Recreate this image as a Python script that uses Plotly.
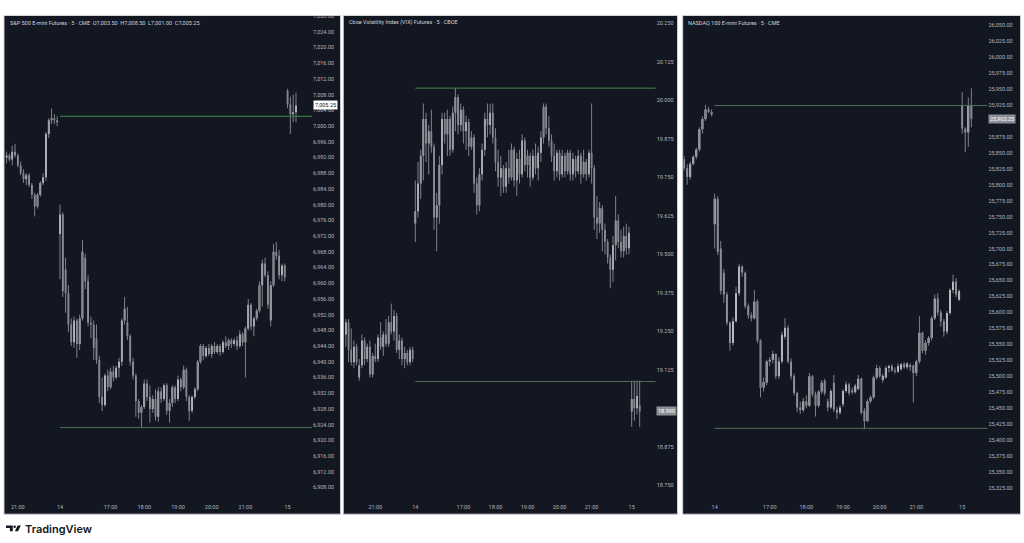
import plotly.graph_objects as go

W, H = 1024, 543
BG = "#131722"
UP = "#ffffff"
DOWN = "#a6a9b1"
WICK = "#7e818b"
TXT = "#b2b5be"
FONT = "Roboto"

# ---------------- ES1! 5m: tail of the 13th, the 14th, first bars of the 15th ----------------
es_open = [6992.0, 6992.5, 6991.5, 6993.5, 6992.5, 6990.0, 6988.0, 6986.5, 6987.5, 6985.0,
           6982.5, 6979.5, 6982.5, 6985.5, 6987.0, 6998.0, 7001.5, 7002.0, 7001.5,
           6972.5, 6977.5, 6963.5, 6957.5, 6949.5, 6945.0, 6950.5, 6944.5, 6951.0, 6966.5,
           6960.5, 6950.0, 6949.5, 6946.0, 6940.5, 6931.0, 6929.0, 6936.5, 6933.5, 6937.5,
           6936.0, 6938.5, 6940.0, 6950.5, 6950.0, 6946.5, 6940.0, 6936.5, 6930.0, 6927.0,
           6928.5, 6934.5, 6931.0, 6928.0, 6930.5, 6926.0, 6932.5, 6930.5, 6934.0, 6927.5,
           6929.5, 6933.5, 6930.5, 6935.5, 6933.5, 6938.0, 6931.0, 6927.5, 6931.0, 6933.0,
           6940.0, 6944.0, 6941.5, 6943.5, 6942.0, 6944.0, 6942.5, 6944.0, 6942.5, 6945.0,
           6944.0, 6945.5, 6944.5, 6945.5, 6944.0, 6947.0, 6945.0, 6948.5, 6954.5, 6949.0,
           6951.0, 6953.0, 6959.5, 6965.0, 6962.0, 6950.5, 6959.5, 6968.0, 6967.0, 6962.0,
           6964.5,
           7009.0, 7005.5, 7003.0, 7003.5]
es_high = [6993.5, 6993.0, 6995.0, 6995.5, 6993.0, 6991.0, 6989.0, 6988.0, 6988.0, 6985.5,
           6983.0, 6983.0, 6986.0, 6988.0, 6998.5, 7002.0, 7004.5, 7003.0, 7002.5,
           6980.0, 6978.0, 6966.5, 6959.5, 6951.0, 6951.5, 6951.0, 6952.0, 6971.0, 6967.5,
           6962.0, 6951.5, 6950.5, 6949.5, 6941.5, 6936.0, 6937.0, 6938.0, 6938.5, 6939.0,
           6939.0, 6941.0, 6951.0, 6956.5, 6954.0, 6947.0, 6941.0, 6937.0, 6930.5, 6929.0,
           6935.5, 6935.5, 6934.0, 6931.5, 6933.0, 6933.5, 6933.5, 6934.5, 6934.5, 6930.5,
           6934.0, 6934.0, 6936.5, 6936.0, 6939.0, 6938.5, 6931.5, 6931.5, 6933.5, 6940.5,
           6944.5, 6944.5, 6944.0, 6944.5, 6944.5, 6945.0, 6944.5, 6944.5, 6945.5, 6946.5,
           6946.0, 6946.0, 6946.0, 6946.5, 6948.0, 6947.5, 6949.0, 6956.0, 6955.0, 6951.5,
           6953.5, 6960.5, 6966.0, 6966.5, 6963.0, 6960.5, 6970.0, 6970.5, 6968.5, 6965.0,
           6965.0,
           7009.5, 7007.5, 7008.0, 7008.5]
es_low = [6990.5, 6991.0, 6990.0, 6992.0, 6989.5, 6987.5, 6985.5, 6985.0, 6984.5, 6981.5,
          6977.0, 6979.0, 6982.0, 6985.0, 6986.0, 6997.0, 7000.5, 7000.5, 7000.0,
          6961.0, 6956.5, 6952.5, 6947.5, 6944.0, 6943.5, 6941.0, 6943.0, 6950.5, 6958.5,
          6949.0, 6946.0, 6940.5, 6939.5, 6929.5, 6927.5, 6928.5, 6932.5, 6933.0, 6935.0,
          6935.5, 6936.0, 6939.0, 6949.5, 6945.5, 6939.0, 6935.5, 6926.0, 6925.5, 6923.25,
          6928.0, 6930.0, 6924.5, 6927.0, 6925.0, 6924.75, 6929.5, 6930.0, 6926.5, 6924.5,
          6928.5, 6929.5, 6930.0, 6932.5, 6933.0, 6930.0, 6925.0, 6927.0, 6930.5, 6932.5,
          6939.5, 6940.5, 6941.0, 6941.5, 6941.0, 6942.0, 6942.0, 6941.5, 6942.0, 6943.5,
          6943.0, 6943.5, 6944.0, 6943.0, 6943.5, 6944.0, 6936.0, 6948.0, 6948.0, 6946.5,
          6950.5, 6952.5, 6954.0, 6961.5, 6953.5, 6949.0, 6959.0, 6966.0, 6961.0, 6960.5,
          6960.5,
          7004.5, 6998.0, 7001.0, 7001.0]
es_close = [6992.5, 6991.5, 6993.5, 6992.5, 6990.0, 6988.0, 6986.5, 6987.5, 6985.0, 6982.5,
            6979.5, 6982.5, 6985.5, 6987.0, 6998.0, 7001.5, 7002.0, 7001.5, 7001.0,
            6977.5, 6958.0, 6957.5, 6949.5, 6945.0, 6950.5, 6944.5, 6951.0, 6968.0, 6960.5,
            6950.0, 6949.5, 6943.5, 6940.5, 6931.0, 6929.0, 6936.5, 6933.5, 6937.5, 6936.0,
            6938.5, 6940.0, 6950.5, 6953.5, 6946.5, 6940.0, 6936.5, 6930.0, 6927.0, 6928.5,
            6934.5, 6931.0, 6928.0, 6930.5, 6926.0, 6932.5, 6930.5, 6934.0, 6927.5, 6929.5,
            6933.5, 6930.5, 6935.5, 6933.5, 6938.0, 6931.0, 6927.5, 6931.0, 6933.0, 6940.0,
            6944.0, 6941.5, 6943.5, 6942.0, 6944.0, 6942.5, 6944.0, 6942.5, 6945.0, 6944.0,
            6945.5, 6944.5, 6945.5, 6944.0, 6947.0, 6945.0, 6948.5, 6954.5, 6949.0, 6951.0,
            6953.0, 6959.5, 6965.0, 6962.0, 6954.5, 6959.5, 6968.0, 6967.0, 6962.0, 6964.5,
            6961.5,
            7005.5, 7003.0, 7003.5, 7005.25]
es_levels = [7002.5, 6923.25]
es_day_start = 19
es_tick_idx = [4, 19, 37, 49, 61, 73, 85, 100]
es_tick_txt = ["21:00", "14", "17:00", "18:00", "19:00", "20:00", "21:00", "15"]

# ---------------- VX1! 5m ----------------
vx_open = [19.24, 19.28, 19.19, 19.15, 19.20, 19.10, 19.14, 19.22, 19.16, 19.20, 19.11, 19.17, 19.16,
           19.23, 19.20, 19.24, 19.21, 19.28, 19.25, 19.30, 19.19, 19.22, 19.16, 19.18, 19.15, 19.19,
           19.60, 19.64, 19.73, 19.82, 19.94, 19.86, 19.90, 19.85, 19.62, 19.66, 19.79, 19.94, 19.89,
           19.94, 19.84, 19.96, 20.01, 19.92, 19.97, 19.90, 19.93, 19.85, 19.88, 19.73, 19.66, 19.76,
           19.84, 19.94, 19.92, 19.96, 19.88, 19.80, 19.75, 19.78, 19.72, 19.78, 19.75, 19.84, 19.74,
           19.81, 19.76, 19.87, 19.79, 19.82, 19.75, 19.82, 19.78, 19.83, 19.88, 19.98, 19.91, 19.87,
           19.82, 19.77, 19.83, 19.76, 19.82, 19.77, 19.83, 19.76, 19.81, 19.77, 19.82, 19.76, 19.80,
           19.76, 19.83, 19.78, 19.62, 19.60, 19.65, 19.58, 19.54, 19.49, 19.45, 19.53, 19.61, 19.54,
           19.51, 19.56, 19.52,
           18.99, 19.03, 19.00, 19.01]
vx_high = [19.29, 19.29, 19.26, 19.22, 19.21, 19.16, 19.24, 19.23, 19.21, 19.22, 19.18, 19.21, 19.24,
           19.28, 19.25, 19.29, 19.30, 19.34, 19.32, 19.31, 19.24, 19.23, 19.20, 19.19, 19.20, 19.20,
           19.74, 19.80, 19.84, 19.99, 19.96, 19.92, 19.97, 19.86, 19.70, 19.82, 19.96, 19.96, 19.97,
           19.95, 19.98, 20.04, 20.02, 19.99, 19.98, 19.95, 19.94, 19.90, 19.89, 19.75, 19.78, 19.86,
           19.96, 19.99, 19.99, 19.99, 19.91, 19.84, 19.82, 19.79, 19.80, 19.84, 19.86, 19.85, 19.83,
           19.84, 19.89, 19.88, 19.84, 19.83, 19.84, 19.86, 19.85, 19.90, 19.99, 19.99, 19.95, 19.89,
           19.86, 19.84, 19.84, 19.84, 19.83, 19.84, 19.84, 19.83, 19.82, 19.84, 19.83, 19.84, 19.81,
           19.84, 19.99, 19.79, 19.69, 19.67, 19.66, 19.60, 19.55, 19.50, 19.56, 19.69, 19.63, 19.58,
           19.59, 19.60, 19.59,
           19.09, 19.09, 19.09, 19.09]
vx_low = [19.20, 19.15, 19.14, 19.13, 19.14, 19.09, 19.13, 19.14, 19.15, 19.10, 19.10, 19.15, 19.15,
          19.19, 19.17, 19.20, 19.20, 19.24, 19.22, 19.18, 19.16, 19.14, 19.13, 19.14, 19.14, 19.15,
          19.54, 19.62, 19.68, 19.74, 19.80, 19.76, 19.83, 19.58, 19.51, 19.60, 19.76, 19.86, 19.82,
          19.82, 19.83, 19.90, 19.89, 19.90, 19.86, 19.84, 19.82, 19.84, 19.70, 19.63, 19.64, 19.74,
          19.82, 19.88, 19.89, 19.86, 19.77, 19.72, 19.69, 19.70, 19.70, 19.73, 19.74, 19.72, 19.69,
          19.73, 19.75, 19.77, 19.75, 19.72, 19.74, 19.76, 19.74, 19.80, 19.86, 19.89, 19.85, 19.80,
          19.74, 19.75, 19.74, 19.75, 19.75, 19.76, 19.74, 19.74, 19.75, 19.76, 19.73, 19.75, 19.74,
          19.75, 19.73, 19.58, 19.55, 19.57, 19.51, 19.50, 19.47, 19.39, 19.41, 19.48, 19.52, 19.49,
          19.49, 19.50, 19.50,
          18.94, 18.96, 18.98, 18.94]
vx_close = [19.28, 19.19, 19.15, 19.20, 19.15, 19.14, 19.22, 19.16, 19.20, 19.11, 19.17, 19.16, 19.23,
            19.20, 19.24, 19.21, 19.28, 19.25, 19.30, 19.19, 19.22, 19.16, 19.18, 19.15, 19.19, 19.16,
            19.64, 19.73, 19.82, 19.94, 19.86, 19.90, 19.85, 19.62, 19.66, 19.79, 19.94, 19.89, 19.94,
            19.84, 19.96, 20.01, 19.92, 19.97, 19.90, 19.93, 19.85, 19.88, 19.73, 19.66, 19.76, 19.84,
            19.94, 19.92, 19.96, 19.88, 19.80, 19.75, 19.78, 19.72, 19.78, 19.75, 19.84, 19.74, 19.81,
            19.76, 19.87, 19.79, 19.82, 19.75, 19.82, 19.78, 19.83, 19.88, 19.98, 19.91, 19.87, 19.82,
            19.77, 19.83, 19.76, 19.82, 19.77, 19.83, 19.76, 19.81, 19.77, 19.82, 19.76, 19.80, 19.76,
            19.83, 19.78, 19.62, 19.60, 19.65, 19.58, 19.54, 19.49, 19.45, 19.53, 19.61, 19.54, 19.51,
            19.56, 19.52, 19.57,
            19.03, 19.00, 19.04, 18.99]
vx_levels = [20.04, 19.087]
vx_day_start = 26
vx_tick_idx = [11, 26, 44, 56, 68, 80, 92, 107]
vx_tick_txt = ["21:00", "14", "17:00", "18:00", "19:00", "20:00", "21:00", "15"]

# ---------------- NQ1! 5m ----------------
nq_open = [25840, 25826, 25812, 25833, 25844, 25855, 25887, 25903, 25918, 25914,
           25738, 25778, 25700, 25662, 25628, 25584, 25552, 25586, 25630, 25672, 25662, 25610,
           25595, 25591, 25617, 25556, 25482, 25490, 25523, 25526, 25535, 25500, 25523, 25562,
           25576, 25523, 25500, 25474, 25451, 25447, 25461, 25454, 25500, 25472, 25454, 25476,
           25493, 25461, 25451, 25490, 25448, 25443, 25456, 25477, 25487, 25478, 25475, 25480,
           25496, 25446, 25430, 25461, 25467, 25498, 25513, 25494, 25498, 25513, 25516, 25509,
           25507, 25511, 25519, 25514, 25515, 25517, 25505, 25523, 25568, 25540, 25552, 25560,
           25591, 25622, 25600, 25586, 25570, 25599, 25635, 25648, 25620,
           25924, 25888, 25882, 25924]
nq_high = [25845, 25832, 25836, 25846, 25858, 25890, 25907, 25925, 25922, 25918,
           25786, 25782, 25712, 25668, 25632, 25586, 25592, 25640, 25676, 25674, 25664, 25614,
           25600, 25635, 25620, 25558, 25498, 25526, 25530, 25540, 25536, 25530, 25570, 25591,
           25580, 25528, 25504, 25476, 25460, 25466, 25470, 25505, 25502, 25476, 25478, 25494,
           25496, 25465, 25480, 25502, 25452, 25455, 25480, 25492, 25490, 25482, 25488, 25502,
           25498, 25450, 25464, 25470, 25501, 25518, 25516, 25504, 25516, 25518, 25519, 25514,
           25520, 25521, 25522, 25522, 25520, 25518, 25526, 25594, 25570, 25556, 25563, 25594,
           25628, 25630, 25604, 25590, 25602, 25638, 25659, 25654, 25636,
           25945, 25890, 25937, 25951]
nq_low = [25822, 25800, 25808, 25830, 25840, 25852, 25880, 25900, 25912, 25907,
          25700, 25690, 25628, 25615, 25580, 25540, 25548, 25584, 25626, 25656, 25606, 25590,
          25586, 25589, 25552, 25467, 25476, 25486, 25516, 25520, 25496, 25496, 25520, 25558,
          25520, 25495, 25470, 25444, 25441, 25444, 25450, 25452, 25468, 25437, 25451, 25472,
          25470, 25445, 25449, 25444, 25433, 25440, 25452, 25474, 25470, 25472, 25473, 25478,
          25440, 25417, 25428, 25458, 25464, 25495, 25497, 25490, 25496, 25506, 25507, 25504,
          25505, 25509, 25512, 25511, 25508, 25459, 25500, 25520, 25536, 25534, 25548, 25556,
          25588, 25595, 25578, 25562, 25566, 25596, 25630, 25624, 25618,
          25880, 25851, 25859, 25890]
nq_close = [25826, 25812, 25833, 25844, 25855, 25887, 25903, 25918, 25914, 25910,
            25778, 25695, 25634, 25628, 25584, 25552, 25586, 25630, 25672, 25662, 25610, 25595,
            25591, 25617, 25556, 25482, 25491, 25523, 25526, 25535, 25500, 25523, 25565, 25576,
            25523, 25500, 25474, 25451, 25447, 25461, 25454, 25500, 25472, 25454, 25476, 25490,
            25474, 25451, 25477, 25448, 25443, 25451, 25477, 25487, 25474, 25475, 25485, 25496,
            25443, 25430, 25461, 25467, 25498, 25513, 25500, 25501, 25513, 25516, 25509, 25507,
            25516, 25519, 25514, 25520, 25517, 25505, 25523, 25568, 25540, 25552, 25560, 25591,
            25622, 25600, 25586, 25570, 25599, 25635, 25648, 25628, 25633,
            25888, 25882, 25924, 25903.25]
nq_levels = [25924, 25418.5]
nq_day_start = 10
nq_tick_idx = [10, 28, 40, 52, 64, 76, 91]
nq_tick_txt = ["14", "17:00", "18:00", "19:00", "20:00", "21:00", "15"]

# ---------------- layout (pixels) ----------------
PLOT_TOP, PLOT_BOT = 13, 499

panels = [
    dict(o=es_open, h=es_high, l=es_low, c=es_close, levels=es_levels, day0=es_day_start,
         tidx=es_tick_idx, ttxt=es_tick_txt, box=(4, 340.5), plot=(5, 312),
         xr=[-0.57, 108.7], yr=[6905.0, 7028.05], dtick=4, tick0=6908, fmt=",.2f",
         lvl_colors=["#3f8a47", "#4f6f56"], sym="ES1!, 5", desc="S&P 500 E-mini Futures",
         head="S&P 500 E-mini Futures · 5 · CME", ohlc=True,
         last_bg="#ffffff", last_fg="#131722"),
    dict(o=vx_open, h=vx_high, l=vx_low, c=vx_close, levels=vx_levels, day0=vx_day_start,
         tidx=vx_tick_idx, ttxt=vx_tick_txt, box=(343.3, 677.5), plot=(344, 655.7),
         xr=[-0.71, 116.0], yr=[18.7048, 20.2745], dtick=0.125, tick0=18.75, fmt=".3f",
         lvl_colors=["#3f8a47", "#4f6f56"], sym="VX1!, 5",
         desc="Cboe Volatility Index (VIX) Futures",
         head="Cboe Volatility Index (VIX) Futures · 5 · CBOE", ohlc=False,
         last_bg="#8c8f97", last_fg="#ffffff"),
    dict(o=nq_open, h=nq_high, l=nq_low, c=nq_close, levels=nq_levels, day0=nq_day_start,
         tidx=nq_tick_idx, ttxt=nq_tick_txt, box=(682.7, 1020.5), plot=(683.5, 987.5),
         xr=[-0.2, 99.28], yr=[25307.4, 26064.4], dtick=25, tick0=25325, fmt=",.2f",
         lvl_colors=["#56705c", "#56705c"], sym="NQ1!, 5", desc="NASDAQ 100 E-mini Futures",
         head="NASDAQ 100 E-mini Futures · 5 · CME", ohlc=False,
         last_bg="#8c8f97", last_fg="#ffffff"),
]


def fx(p):
    return p / W


def fy(p):
    return 1 - p / H


fig = go.Figure()
shapes = []
annotations = []
layout = {}
ydom = [fy(PLOT_BOT), fy(PLOT_TOP)]

for k, p in enumerate(panels, start=1):
    sfx = "" if k == 1 else str(k)
    xa, ya = "x" + sfx, "y" + sfx
    n = len(p["c"])
    idx = list(range(n))
    last = p["c"][-1]

    # wicks
    wx, wy = [], []
    for i in idx:
        wx += [i, i, None]
        wy += [p["l"][i], p["h"][i], None]
    fig.add_trace(go.Scatter(x=wx, y=wy, mode="lines", line=dict(color=WICK, width=1),
                             hoverinfo="skip", showlegend=False, xaxis=xa, yaxis=ya))

    # horizontal levels drawn on the chart
    for lvl, col in zip(p["levels"], p["lvl_colors"]):
        fig.add_trace(go.Scatter(x=[p["day0"], p["xr"][1]], y=[lvl, lvl], mode="lines",
                                 line=dict(color=col, width=1), hoverinfo="skip",
                                 showlegend=False, xaxis=xa, yaxis=ya))

    # candle bodies
    fig.add_trace(go.Candlestick(
        x=idx, open=p["o"], high=p["h"], low=p["l"], close=p["c"],
        increasing=dict(fillcolor=UP, line=dict(color=UP, width=0)),
        decreasing=dict(fillcolor=DOWN, line=dict(color=DOWN, width=0)),
        whiskerwidth=0, hoverinfo="skip", showlegend=False, xaxis=xa, yaxis=ya))

    # price scale ticks; the one hidden under the last-price tag is left out
    lo, hi = p["yr"]
    px_per_unit = (PLOT_BOT - PLOT_TOP) / (hi - lo)
    yticks = []
    t = p["tick0"]
    while t <= hi:
        if abs(t - last) * px_per_unit > 4.5:
            yticks.append(round(t, 4))
        t += p["dtick"]

    layout[f"xaxis{sfx}"] = dict(
        domain=[fx(p["plot"][0]), fx(p["plot"][1])], range=p["xr"], anchor=ya,
        tickmode="array", tickvals=p["tidx"], ticktext=p["ttxt"],
        showgrid=False, zeroline=False, showline=False, ticks="",
        ticklabelstandoff=3,
        tickfont=dict(family=FONT, size=5.5, color=TXT),
        rangeslider=dict(visible=False), fixedrange=True)
    layout[f"yaxis{sfx}"] = dict(
        domain=ydom, range=p["yr"], anchor=xa, side="right",
        tickmode="array", tickvals=yticks, tickformat=p["fmt"],
        showgrid=False, zeroline=False, showline=False, ticks="",
        tickfont=dict(family=FONT, size=5.5, color=TXT), fixedrange=True)

    # panel background + border
    shapes.append(dict(type="rect", xref="paper", yref="paper", layer="below",
                       x0=fx(p["box"][0]), x1=fx(p["box"][1]), y0=fy(514), y1=fy(12.5),
                       fillcolor=BG, line=dict(color="#c9cbd1", width=1)))

    # legend line at top-left
    head = p["head"]
    if p["ohlc"]:
        head += "\u00a0\u00a0O{:,.2f}\u00a0\u00a0H{:,.2f}\u00a0\u00a0L{:,.2f}\u00a0\u00a0C{:,.2f}".format(
            p["o"][-1], p["h"][-1], p["l"][-1], p["c"][-1])
    annotations.append(dict(text=head, xref="paper", yref="paper",
                            x=fx(p["plot"][0] + 2.5), y=fy(20), xanchor="left", yanchor="middle",
                            showarrow=False, font=dict(family=FONT, size=5.5, color="#d1d4dc")))

    # watermark
    annotations.append(dict(text=p["sym"], xref=f"{xa} domain", yref=f"{ya} domain",
                            x=0.5, y=(PLOT_BOT - 246.5) / (PLOT_BOT - PLOT_TOP),
                            showarrow=False, font=dict(family="Liberation Sans", size=24,
                                                       color="rgba(255,255,255,0.022)")))
    annotations.append(dict(text=p["desc"], xref=f"{xa} domain", yref=f"{ya} domain",
                            x=0.5, y=(PLOT_BOT - 268) / (PLOT_BOT - PLOT_TOP),
                            showarrow=False, font=dict(family="Liberation Sans", size=14,
                                                       color="rgba(255,255,255,0.022)")))

    # last price marker on the price scale
    annotations.append(dict(text=format(last, p["fmt"]), xref="paper", yref=ya,
                            x=fx(p["plot"][1] + 0.5), y=last, xanchor="left", yanchor="middle",
                            showarrow=False, bgcolor=p["last_bg"], borderpad=1,
                            font=dict(family=FONT, size=5.5, color=p["last_fg"])))

# cover above the panes (clips the top price label like the screenshot)
shapes.append(dict(type="rect", xref="paper", yref="paper", layer="above",
                   x0=0, x1=1, y0=fy(12.2), y1=1, fillcolor="#ffffff", line=dict(width=0)))


# TradingView logo
def path(points):
    return "M" + " L".join(f"{fx(a):.5f},{fy(b):.5f}" for a, b in points) + " Z"


logo_col = "#131722"
shapes.append(dict(type="path", xref="paper", yref="paper", layer="above",
                   path=path([(6, 525.3), (12.8, 525.3), (12.8, 531.3), (9.9, 531.3),
                              (9.9, 527.8), (6, 527.8)]),
                   fillcolor=logo_col, line=dict(width=0)))
shapes.append(dict(type="circle", xref="paper", yref="paper", layer="above",
                   x0=fx(13.4), x1=fx(15.9), y0=fy(527.9), y1=fy(525.4),
                   fillcolor=logo_col, line=dict(width=0)))
shapes.append(dict(type="path", xref="paper", yref="paper", layer="above",
                   path=path([(17.6, 525.3), (20.9, 525.3), (18.0, 531.3), (14.9, 531.3)]),
                   fillcolor=logo_col, line=dict(width=0)))
annotations.append(dict(text="TradingView", xref="paper", yref="paper",
                        x=fx(22.5), y=fy(528.5), xanchor="left", yanchor="middle",
                        showarrow=False, font=dict(family="Inter", size=11, color=logo_col,
                                                   weight=600)))

fig.update_layout(
    width=W, height=H, autosize=False,
    margin=dict(l=0, r=0, t=0, b=0),
    paper_bgcolor="#ffffff", plot_bgcolor="rgba(0,0,0,0)",
    showlegend=False, shapes=shapes, annotations=annotations,
    boxgap=0.12,
    **layout,
)

fig.write_html("out.html", config={"displayModeBar": False},
               post_script="document.body.style.margin='0';")
